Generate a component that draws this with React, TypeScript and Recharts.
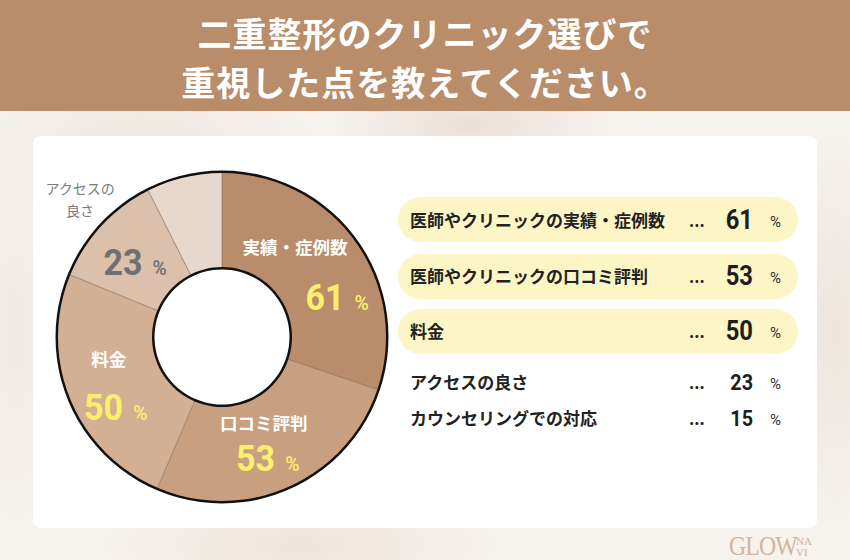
import React from "react";
import { PieChart, Pie, Cell } from "recharts";

const categories = [
  "実績・症例数",
  "口コミ評判",
  "料金",
  "アクセスの良さ",
  "カウンセリングでの対応",
];
const legendLabels = [
  "医師やクリニックの実績・症例数",
  "医師やクリニックの口コミ評判",
  "料金",
  "アクセスの良さ",
  "カウンセリングでの対応",
];
const values = [61, 53, 50, 23, 15];
const highlighted = [true, true, true, false, false];
const titleLines = ["二重整形のクリニック選びで", "重視した点を教えてください。"];

const sliceColors = ["#b98d6b", "#c9a07f", "#d3af93", "#dbc0ab", "#e6d8cd"];
const numFont = "'Roboto', 'Liberation Sans', sans-serif";
const jpFont = "'Noto Sans CJK JP', 'Noto Sans', sans-serif";

// label layout offsets relative to the slice midpoint (name dx,dy ; value dx,dy)
const labelLayout = [
  { n: [-22, -22], v: [20, 41] },
  { n: [-6, -21], v: [-2, 27] },
  { n: [-5, -23], v: [2, 39] },
  { n: [-51, -64], v: [-1, 17] },
  null,
];

const data = categories.map((name, i) => ({ name, value: values[i] }));
const ring = [{ name: "ring", value: 1 }];
const RAD = Math.PI / 180;

const renderLabel = (p: any) => {
  const { cx, cy, midAngle, innerRadius, outerRadius, index, value, name } = p;
  const lay = labelLayout[index];
  if (!lay) return null;
  const r = (innerRadius + outerRadius) / 2;
  const mx = cx + r * Math.cos(-midAngle * RAD);
  const my = cy + r * Math.sin(-midAngle * RAD);
  const outside = index === 3;
  const valColor = outside ? "#707070" : "#fbef6e";
  const nx = mx + lay.n[0];
  const ny = my + lay.n[1];
  return (
    <g key={`lab-${index}`}>
      {outside ? (
        <text
          x={nx - 5}
          y={ny}
          textAnchor="middle"
          fill="#7a7a7a"
          fontSize={14}
          fontFamily={jpFont}
        >
          <tspan x={nx - 5} dy={0}>アクセスの</tspan>
          <tspan x={nx - 5} dy={22}>良さ</tspan>
        </text>
      ) : (
        <text
          x={nx}
          y={ny}
          textAnchor="middle"
          dominantBaseline="central"
          fill="#ffffff"
          fontSize={17.5}
          fontWeight={700}
          fontFamily={jpFont}
        >
          {name}
        </text>
      )}
      <g transform={`translate(${mx + lay.v[0]},${my + lay.v[1]}) scale(0.92,1)`}>
        <text
          x={0}
          y={0}
          textAnchor="middle"
          fill={valColor}
          fontFamily={numFont}
          fontWeight={700}
        >
          <tspan fontSize={37}>{value}</tspan>
          <tspan fontSize={21} dx={11} fontWeight={500}>%</tspan>
        </text>
      </g>
    </g>
  );
};

const bg =
  "radial-gradient(ellipse 180px 90px at 140px 150px, rgba(225,210,195,0.35), rgba(0,0,0,0))," +
  "radial-gradient(ellipse 140px 60px at 470px 125px, rgba(220,200,185,0.45), rgba(0,0,0,0))," +
  "radial-gradient(ellipse 200px 60px at 300px 545px, rgba(228,210,195,0.45), rgba(0,0,0,0))," +
  "radial-gradient(ellipse 60px 200px at 835px 330px, rgba(225,212,200,0.45), rgba(0,0,0,0))," +
  "radial-gradient(ellipse 50px 200px at 15px 330px, rgba(230,220,210,0.4), rgba(0,0,0,0))," +
  "#f6f2ee";

export default function App() {
  const rowCenters = [219.5, 276, 331, 382, 418];
  return (
    <div
      style={{
        position: "absolute",
        left: 0,
        top: 0,
        width: 850,
        height: 560,
        overflow: "hidden",
        background: bg,
        fontFamily: jpFont,
      }}
    >
      <div
        style={{
          position: "absolute",
          left: 0,
          top: 0,
          width: 850,
          height: 111,
          background: "#b98c6a",
        }}
      >
        {titleLines.map((t, i) => (
          <div
            key={i}
            style={{
              position: "absolute",
              left: 0,
              width: 850,
              top: i === 0 ? 12 : 61,
              textAlign: "center",
              color: "#ffffff",
              fontSize: 34,
              fontWeight: 700,
              letterSpacing: 1,
              lineHeight: "42px",
            }}
          >
            {t}
          </div>
        ))}
      </div>

      <div
        style={{
          position: "absolute",
          left: 33,
          top: 136,
          width: 784,
          height: 392,
          background: "#ffffff",
          borderRadius: 8,
        }}
      />

      {legendLabels.map((lab, i) => {
        const c = rowCenters[i];
        const hi = highlighted[i];
        return (
          <React.Fragment key={i}>
            {hi && (
              <div
                style={{
                  position: "absolute",
                  left: 398,
                  top: c - 22.5,
                  width: 400,
                  height: 45,
                  borderRadius: 23,
                  background: "#fcf6c6",
                }}
              />
            )}
            <div
              style={{
                position: "absolute",
                left: 410,
                top: c - 12,
                height: 24,
                lineHeight: "24px",
                fontSize: 17,
                fontWeight: 700,
                color: "#222222",
                whiteSpace: "nowrap",
              }}
            >
              {lab}
            </div>
            <div
              style={{
                position: "absolute",
                left: 689,
                top: c - 12,
                height: 24,
                lineHeight: "24px",
                fontSize: 16,
                fontWeight: 700,
                color: "#222222",
              }}
            >
              ...
            </div>
            <div
              style={{
                position: "absolute",
                left: 693,
                width: 60,
                top: c - 20,
                height: 40,
                lineHeight: "40px",
                textAlign: "right",
                fontFamily: numFont,
                fontSize: hi ? 27 : 22.5,
                fontWeight: 700,
                color: "#1e1e1e",
                transform: "scaleX(0.88)",
                transformOrigin: "right center",
              }}
            >
              {values[i]}
            </div>
            <div
              style={{
                position: "absolute",
                left: 770,
                top: c - 9,
                height: 22,
                lineHeight: "22px",
                fontFamily: numFont,
                fontSize: 15,
                color: "#333333",
              }}
            >
              %
            </div>
          </React.Fragment>
        );
      })}

      <div style={{ position: "absolute", left: 0, top: 0 }}>
        <PieChart width={850} height={560}>
          <Pie
            data={data}
            dataKey="value"
            nameKey="name"
            cx={217}
            cy={332}
            innerRadius={69}
            outerRadius={165}
            startAngle={90}
            endAngle={-270}
            stroke="#8f735f"
            strokeWidth={0.6}
            label={renderLabel}
            labelLine={false}
            isAnimationActive={false}
          >
            {data.map((d, i) => (
              <Cell key={d.name} fill={sliceColors[i]} />
            ))}
          </Pie>
          <Pie
            data={ring}
            dataKey="value"
            cx={217}
            cy={332}
            innerRadius={164}
            outerRadius={166.5}
            startAngle={90}
            endAngle={-270}
            fill="#111111"
            stroke="none"
            isAnimationActive={false}
          />
          <Pie
            data={ring}
            dataKey="value"
            cx={217}
            cy={332}
            innerRadius={67.5}
            outerRadius={70}
            startAngle={90}
            endAngle={-270}
            fill="#111111"
            stroke="none"
            isAnimationActive={false}
          />
        </PieChart>
      </div>

      <div
        style={{
          position: "absolute",
          left: 729,
          top: 531,
          fontFamily: "'Liberation Serif', 'DejaVu Serif', serif",
          fontSize: 28,
          fontWeight: 300,
          color: "#d3b49c",
          letterSpacing: -1,
          lineHeight: "30px",
          transform: "scaleX(0.85)",
          transformOrigin: "left",
        }}
      >
        GLOW
      </div>
      <div
        style={{
          position: "absolute",
          left: 796,
          top: 536,
          fontFamily: "'Liberation Serif', serif",
          fontSize: 11,
          color: "#d3b49c",
          lineHeight: "11px",
        }}
      >
        NA
        <br />
        VI
      </div>
    </div>
  );
}
